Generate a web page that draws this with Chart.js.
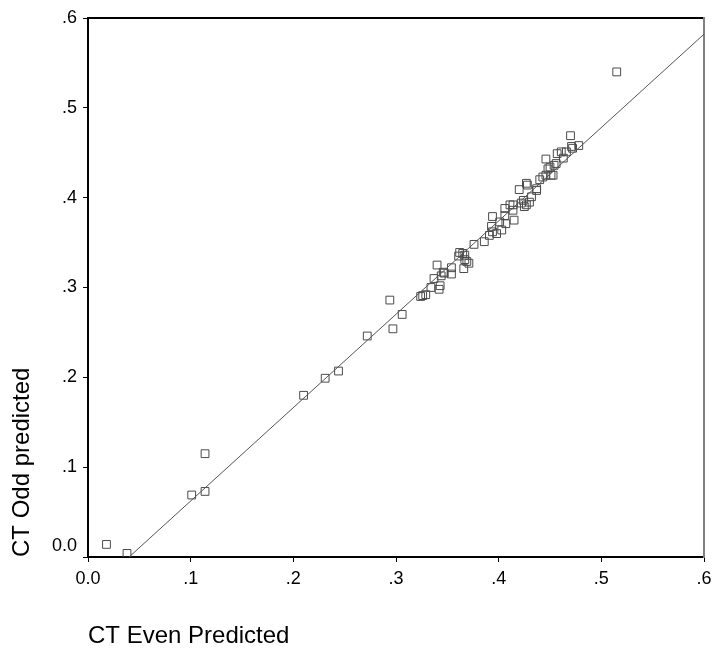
<!DOCTYPE html>
<html lang="en">
<head>
  <meta charset="UTF-8">
  <title>CT Odd vs Even predicted</title>
  <script src="https://cdn.jsdelivr.net/npm/chart.js"></script>
  <style>
    html, body {
      margin: 0;
      padding: 0;
      background: #fff;
    }
    canvas {
      display: block;
    }
  </style>
</head>
<body>
  <canvas id="scatterChart" width="712" height="649"></canvas>

  <script>
    // values
    const evenPredicted = [
      0.018, 0.038, 0.101, 0.114, 0.114, 0.210, 0.231, 0.244, 0.272, 0.294,
      0.297, 0.306, 0.324, 0.326, 0.329, 0.334, 0.337, 0.340, 0.342, 0.343,
      0.344, 0.346, 0.347, 0.354, 0.354, 0.361, 0.362, 0.365, 0.366, 0.367,
      0.367, 0.369, 0.371, 0.376, 0.386, 0.391, 0.393, 0.394, 0.394, 0.398,
      0.401, 0.403, 0.406, 0.406, 0.407, 0.411, 0.414, 0.414, 0.415, 0.420,
      0.422, 0.424, 0.425, 0.427, 0.427, 0.428, 0.430, 0.432, 0.437, 0.437,
      0.440, 0.443, 0.446, 0.446, 0.448, 0.450, 0.451, 0.453, 0.454, 0.456,
      0.457, 0.461, 0.463, 0.466, 0.470, 0.471, 0.472, 0.478, 0.515
    ];
    const oddPredicted = [
      0.014, 0.004, 0.069, 0.073, 0.115, 0.180, 0.199, 0.207, 0.246, 0.286,
      0.254, 0.270, 0.290, 0.291, 0.292, 0.300, 0.310, 0.325, 0.298, 0.302,
      0.313, 0.317, 0.316, 0.315, 0.322, 0.335, 0.339, 0.338, 0.321, 0.336,
      0.331, 0.329, 0.327, 0.348, 0.351, 0.358, 0.368, 0.362, 0.379, 0.360,
      0.373, 0.364, 0.380, 0.388, 0.371, 0.392, 0.386, 0.392, 0.375, 0.409,
      0.394, 0.397, 0.390, 0.392, 0.416, 0.414, 0.395, 0.401, 0.408, 0.410,
      0.420, 0.423, 0.425, 0.443, 0.432, 0.434, 0.425, 0.425, 0.436, 0.438,
      0.449, 0.451, 0.444, 0.451, 0.469, 0.457, 0.455, 0.458, 0.540
    ];

    // fitted line end points
    const fitX = [0.04, 0.6];
    const fitY = [0.0, 0.582];

    const tickLabels = ["0.0", ".1", ".2", ".3", ".4", ".5", ".6"];

    const xTitle = "CT Even Predicted";
    const yTitle = "CT Odd predicted";

    Chart.defaults.font.family = "Arial, 'Liberation Sans', sans-serif";
    Chart.defaults.color = "#000";

    const points = evenPredicted.map((x, i) => ({ x: x, y: oddPredicted[i] }));
    const fitLine = fitX.map((x, i) => ({ x: x, y: fitY[i] }));

    const axisGrid = {
      drawOnChartArea: false,
      drawTicks: true,
      tickLength: 5,
      color: "#000",
      lineWidth: 1
    };

    new Chart(document.getElementById("scatterChart").getContext("2d"), {
      type: "scatter",
      data: {
        datasets: [
          {
            label: "fit",
            data: fitLine,
            showLine: true,
            borderColor: "#555",
            borderWidth: 1,
            pointRadius: 0,
            fill: false
          },
          {
            label: "points",
            data: points,
            pointStyle: "rect",
            pointRadius: 5.5,
            pointBorderWidth: 1,
            pointBorderColor: "#4a4a4a",
            pointBackgroundColor: "rgba(0,0,0,0)"
          }
        ]
      },
      options: {
        responsive: false,
        animation: false,
        layout: {
          padding: { top: 18, right: 8, bottom: 0, left: 0 }
        },
        plugins: {
          legend: { display: false },
          tooltip: { enabled: false }
        },
        scales: {
          x: {
            type: "linear",
            position: "bottom",
            min: 0,
            max: 0.6,
            ticks: {
              stepSize: 0.1,
              padding: 0,
              font: { size: 18, lineHeight: 1.85 },
              color: "#000",
              callback: (v, i) => tickLabels[i]
            },
            grid: axisGrid,
            border: { display: true, color: "#000", width: 2 },
            title: {
              display: true,
              text: xTitle,
              align: "start",
              font: { size: 24, lineHeight: 1.05 },
              padding: { top: 0, bottom: 0 }
            },
            afterFit: s => { s.height = 92; }
          },
          y: {
            type: "linear",
            position: "left",
            min: 0,
            max: 0.6,
            ticks: {
              stepSize: 0.1,
              padding: 6,
              font: { size: 18 },
              color: "#000",
              // the lowest label sits a little above its tick
              callback: (v, i) => i === 0 ? [tickLabels[i], ""] : tickLabels[i]
            },
            grid: axisGrid,
            border: { display: true, color: "#000", width: 2 },
            title: {
              display: true,
              text: yTitle,
              align: "start",
              font: { size: 24, lineHeight: 1.2 },
              padding: { top: 8, bottom: 0 }
            },
            afterFit: s => { s.width = 88; }
          },
          xTop: {
            type: "linear",
            position: "top",
            min: 0,
            max: 0.6,
            ticks: { display: false },
            grid: { display: false },
            border: { display: true, color: "#000", width: 2 },
            afterFit: s => { s.height = 0; }
          },
          yRight: {
            type: "linear",
            position: "right",
            min: 0,
            max: 0.6,
            ticks: { display: false },
            grid: { display: false },
            border: { display: true, color: "#808080", width: 2 },
            afterFit: s => { s.width = 0; }
          }
        }
      }
    });
  </script>
</body>
</html>
